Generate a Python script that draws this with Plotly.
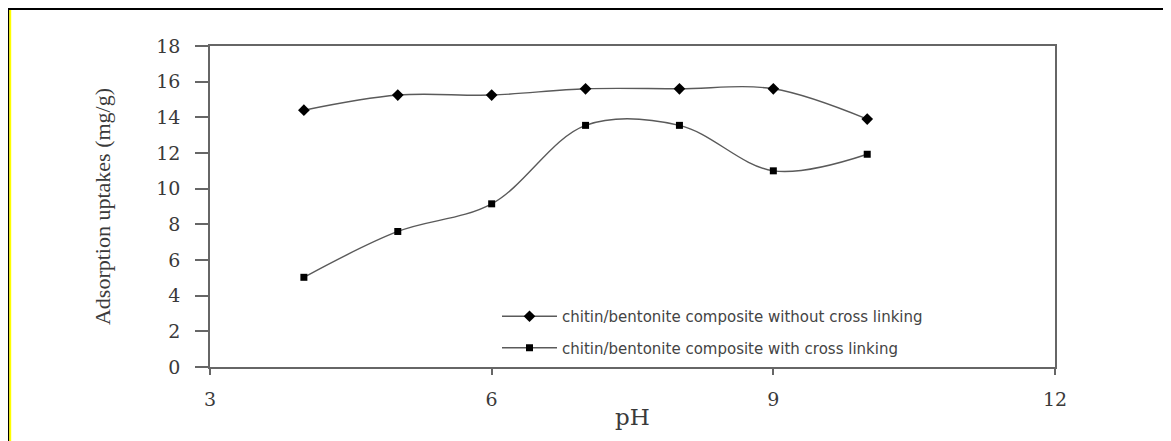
import plotly.graph_objects as go

ph = [4, 5, 6, 7, 8, 9, 10]
without_cl = [14.4, 15.25, 15.25, 15.6, 15.6, 15.6, 13.9]
with_cl = [5.03, 7.6, 9.15, 13.55, 13.55, 11.0, 11.93]
name_without = "chitin/bentonite composite without cross linking"
name_with = "chitin/bentonite composite with cross linking"
x_ticks = [3, 6, 9, 12]
y_ticks = [0, 2, 4, 6, 8, 10, 12, 14, 16, 18]

# page body has an 8px margin, so the figure is drawn 8px smaller and shifted
OFF = 8
W, H = 1171 - OFF, 441 - OFF
L, R, T, B = 210 - OFF, 116, 46 - OFF, 441 - 367
pw, ph_ = W - L - R, H - T - B

def px2x(p):
    return (p - OFF - L) / pw

def py2y(p):
    return (H - B - (p - OFF)) / ph_

fig = go.Figure()
fig.add_trace(go.Scatter(
    x=ph, y=without_cl, name=name_without, mode="lines+markers",
    line=dict(color="#5a5a5a", width=1.4, shape="spline", smoothing=1.0),
    marker=dict(symbol="diamond", size=9, color="black"),
    legendgroup="a",
))
fig.add_trace(go.Scatter(
    x=ph, y=with_cl, name=name_with, mode="lines+markers",
    line=dict(color="#5a5a5a", width=1.4, shape="spline", smoothing=1.0),
    marker=dict(symbol="square", size=7, color="black"),
    legendgroup="b",
))

serif = "DejaVu Serif, serif"
fig.update_layout(
    width=W, height=H,
    margin=dict(l=L, r=R, t=T, b=B, autoexpand=False),
    paper_bgcolor="white", plot_bgcolor="white",
    showlegend=True,
    legend=dict(
        x=px2x(497), y=py2y(300), xanchor="left", yanchor="top",
        bgcolor="rgba(0,0,0,0)", traceorder="grouped", tracegroupgap=9,
        font=dict(family="DejaVu Sans, sans-serif", size=15, color="#444"),
        itemwidth=55,
    ),
    xaxis=dict(
        range=[3, 12], tickvals=x_ticks, showgrid=False, zeroline=False,
        showline=True, mirror=True, linecolor="#666", linewidth=1.6,
        ticks="outside", ticklen=6, tickcolor="#666", tickwidth=1.6,
        tickfont=dict(family=serif, size=19, color="#3a3a3a"),
        ticklabelstandoff=8,
        title=dict(text="pH", font=dict(family=serif, size=23, color="#3a3a3a"), standoff=0),
    ),
    yaxis=dict(
        range=[0, 18], tickvals=y_ticks, showgrid=False, zeroline=False,
        showline=True, mirror=True, linecolor="#666", linewidth=1.6,
        ticks="outside", ticklen=13, tickcolor="#666", tickwidth=1.6,
        tickfont=dict(family=serif, size=19, color="#3a3a3a"),
        ticklabelstandoff=11,
        title=dict(text="Adsorption uptakes (mg/g)",
                   font=dict(family="Liberation Serif, serif", size=22, color="#3a3a3a"),
                   standoff=40),
    ),
    shapes=[
        dict(type="line", xref="paper", yref="paper",
             x0=px2x(OFF), x1=px2x(1171 + 20), y0=py2y(OFF + 0.5), y1=py2y(OFF + 0.5),
             line=dict(color="black", width=3)),
        dict(type="line", xref="paper", yref="paper",
             x0=px2x(OFF + 0.5), x1=px2x(OFF + 0.5), y0=py2y(OFF), y1=py2y(460),
             line=dict(color="black", width=2)),
        dict(type="line", xref="paper", yref="paper",
             x0=px2x(OFF + 2.2), x1=px2x(OFF + 2.2), y0=py2y(OFF + 2), y1=py2y(460),
             line=dict(color="#ffff00", width=2)),
    ],
)

fig.write_html("out.html")
